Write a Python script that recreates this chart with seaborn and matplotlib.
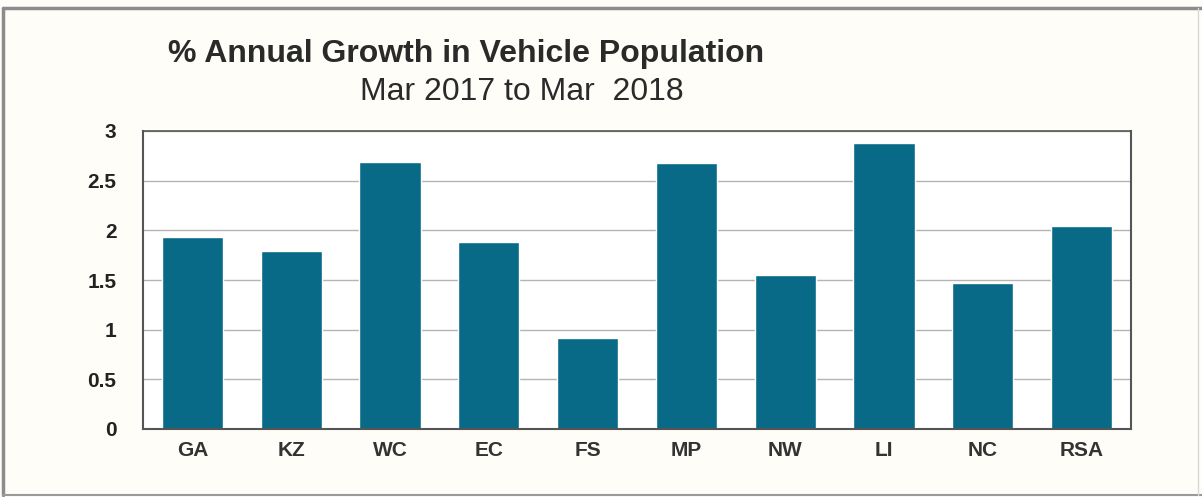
import matplotlib
matplotlib.use("Agg")
import matplotlib.pyplot as plt
import seaborn as sns
import pandas as pd
from matplotlib.lines import Line2D

# Data
regions = ["GA", "KZ", "WC", "EC", "FS", "MP", "NW", "LI", "NC", "RSA"]
growth = [1.93, 1.79, 2.69, 1.88, 0.92, 2.68, 1.55, 2.88, 1.47, 2.04]
y_ticks = [0, 0.5, 1, 1.5, 2, 2.5, 3]

df = pd.DataFrame({"region": regions, "growth": growth})

sns.set_theme(style="white")
plt.rcParams['font.family'] = ['Liberation Sans', 'DejaVu Sans']

W, H = 1202, 497
fig = plt.figure(figsize=(W / 100, H / 100), dpi=100)
fig.patch.set_facecolor("#fefdf8")

# scanned frame around the chart (left, top, bottom, faint right)
def fig_line(x0, y0, x1, y1, color, lw):
    fig.lines.append(Line2D([x0 / W, x1 / W], [1 - y0 / H, 1 - y1 / H],
                            transform=fig.transFigure, color=color, linewidth=lw))

fig_line(3, 8, 1202, 8, "#8c8c8c", 2.5)
fig_line(3, 8, 3, 495, "#8c8c8c", 2.5)
fig_line(3, 495, 1202, 495, "#9a9a9a", 1.5)
fig_line(1198, 8, 1198, 495, "#d8d8d8", 1.0)

ax = fig.add_axes([143 / W, 1 - 429 / H, (1131 - 143) / W, (429 - 131) / H])
ax.set_facecolor("white")
sns.barplot(data=df, x="region", y="growth", color="#086a87", saturation=1,
            width=0.62, ax=ax)

ax.set_ylim(0, 3)
ax.set_xlim(-0.5, len(regions) - 0.5)
ax.set_yticks(y_ticks)
ax.set_yticklabels([f"{t:g}" for t in y_ticks], fontsize=15, fontweight="bold", color="#222222")
ax.set_xticks(range(len(regions)))
ax.set_xticklabels(regions, fontsize=15, fontweight="bold", color="#333333")
ax.set_xlabel("")
ax.set_ylabel("")
ax.grid(axis="y", color="#b4b4b4", linewidth=1)
ax.set_axisbelow(True)
ax.tick_params(axis="y", length=0, pad=19)
ax.tick_params(axis="x", length=0, pad=9)
for name, s in ax.spines.items():
    s.set_visible(True)
    s.set_color("#555555")
    s.set_linewidth(1.5)
ax.spines["top"].set_linewidth(1.2)

fig.text(168 / W, 1 - 62 / H, "% Annual Growth in Vehicle Population",
         fontsize=23, fontweight="bold", color="#2a2a2a", va="baseline", ha="left")
fig.text(522 / W, 1 - 100 / H, "Mar 2017 to Mar  2018",
         fontsize=23, color="#2a2a2a", va="baseline", ha="center")

fig.savefig("out.png", dpi=100, facecolor=fig.get_facecolor())
